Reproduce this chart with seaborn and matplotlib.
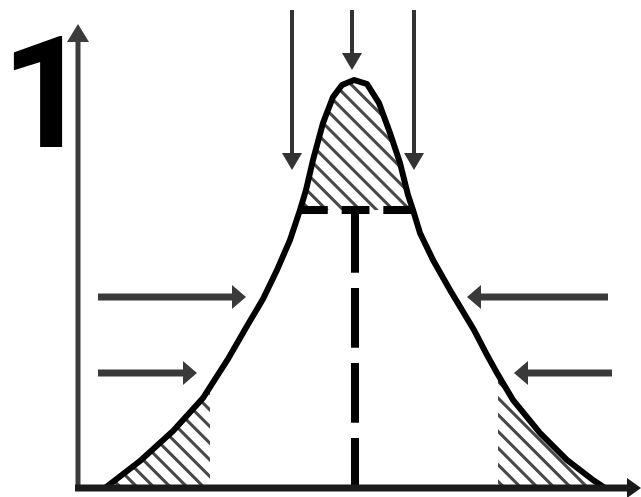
import numpy as np
import matplotlib
matplotlib.use('Agg')
import matplotlib.pyplot as plt
import seaborn as sns
from matplotlib import font_manager
from matplotlib.textpath import TextPath

# bell curve, pixel units with y growing downward
curve_x = [105, 140, 173, 203, 228, 247, 263, 277, 290, 300, 306, 313, 323, 333, 342, 354,
           367, 379, 390, 400, 408, 413, 420, 433, 450, 474, 487, 497, 513, 540, 567, 593, 605]
curve_y = [488, 461, 431, 398, 359, 326, 299, 270, 240, 210, 190, 160, 123, 97, 85, 80,
           84, 103, 133, 163, 195, 210, 233, 260, 290, 330, 355, 373, 400, 433, 460, 480, 488]

base_y = 488          # x axis height
cut_y = 210           # dashed cut across the peak
left_tail_end = 210   # right edge of hatched left tail
right_tail_start = 498
centre_x = 355

# arrows as (x0, y0, x1, y1)
down_arrows = [(292, 10, 292, 170), (352, 10, 352, 70), (414, 10, 414, 170)]
right_arrows = [(98, 297, 246, 297), (98, 373, 197, 373)]
left_arrows = [(608, 297, 467, 297), (612, 373, 514, 373)]

panel_label = '1'

sns.set_style('white')
plt.rcParams['font.family'] = ['Roboto', 'DejaVu Sans']
plt.rcParams['hatch.linewidth'] = 2.2
plt.rcParams['lines.scale_dashes'] = False

fig = plt.figure(figsize=(6.41, 4.97), dpi=100)
ax = fig.add_axes([0, 0, 1, 1])
ax.set_xlim(0, 641)
ax.set_ylim(497, 0)
ax.axis('off')

cx = np.array(curve_x, dtype=float)
cy = np.array(curve_y, dtype=float)
mid = np.argmin(cy)
hatch_col = '#484848'

# hatched left tail
left_part = cx <= left_tail_end
lx = np.append(cx[left_part], left_tail_end)
ly = np.append(cy[left_part], np.interp(left_tail_end, cx[:mid + 1], cy[:mid + 1]))
ax.fill_between(lx, ly, base_y, facecolor='white', edgecolor=hatch_col, hatch='\\\\', linewidth=0, zorder=1)

# hatched right tail
right_part = cx >= right_tail_start
rx = np.insert(cx[right_part], 0, right_tail_start)
ry = np.insert(cy[right_part], 0, np.interp(right_tail_start, cx[mid:], cy[mid:]))
ax.fill_between(rx, ry, base_y, facecolor='white', edgecolor=hatch_col, hatch='\\\\', linewidth=0, zorder=1)

# hatched cap above the cut
top = cy <= cut_y
ax.fill_between(cx[top], cy[top], cut_y, facecolor='white', edgecolor=hatch_col, hatch='\\\\', linewidth=0, zorder=1)

# the curve itself
sns.lineplot(x=curve_x, y=curve_y, sort=False, estimator=None, color='black', lw=4.3, ax=ax,
             zorder=3, solid_joinstyle='round', solid_capstyle='round')

# dashed centre line and cut
ax.plot([centre_x, centre_x], [cut_y + 3, base_y], color='black', lw=5.8,
        dashes=(43, 11), dash_capstyle='butt', zorder=2)
ax.plot([300, 413], [cut_y, cut_y], color='black', lw=5.8,
        dashes=(20, 10), dash_capstyle='butt', zorder=2)

def draw_arrow(a, width, hw, hl, col):
    x0, y0, x1, y1 = a
    ax.arrow(x0, y0, x1 - x0, y1 - y0, width=width, head_width=hw, head_length=hl,
             length_includes_head=True, color=col, lw=0, zorder=4)

for a in down_arrows:
    draw_arrow(a, 4, 20, 17, '#333333')
for a in right_arrows + left_arrows:
    draw_arrow(a, 7, 24, 14, '#3a3a3a')

# axes
draw_arrow((78, 491, 78, 24), 5, 22, 18, '#3c3c3c')
draw_arrow((75, base_y, 641, base_y), 7, 20, 14, '#1a1a1a')

# big panel number: prefer a narrow bold face, check the file really is one
candidates = [('Liberation Sans Narrow', 'normal', 'narrow'),
              ('Noto Sans', 'condensed', 'condensed'),
              ('Roboto', 'normal', 'roboto')]
label_font = font_manager.FontProperties(family='Roboto', weight='bold')
for fam, stretch, tag in candidates:
    fp = font_manager.FontProperties(family=fam, weight='bold', stretch=stretch)
    try:
        path = font_manager.findfont(fp, fallback_to_default=False)
    except ValueError:
        continue
    if tag in path.lower().replace('-', '').replace('_', ''):
        label_font = font_manager.FontProperties(fname=path)
        break

label_pt = 112.6
ink = TextPath((0, 0), panel_label, size=label_pt * 100 / 72, prop=label_font).get_extents()
x_origin = max(0.0, 30.5 - (ink.x0 + ink.x1) / 2)
label_font.set_size(label_pt)
ax.text(x_origin, 147, panel_label, fontproperties=label_font, color='black', ha='left', va='baseline')

fig.savefig('out.png', dpi=100)
